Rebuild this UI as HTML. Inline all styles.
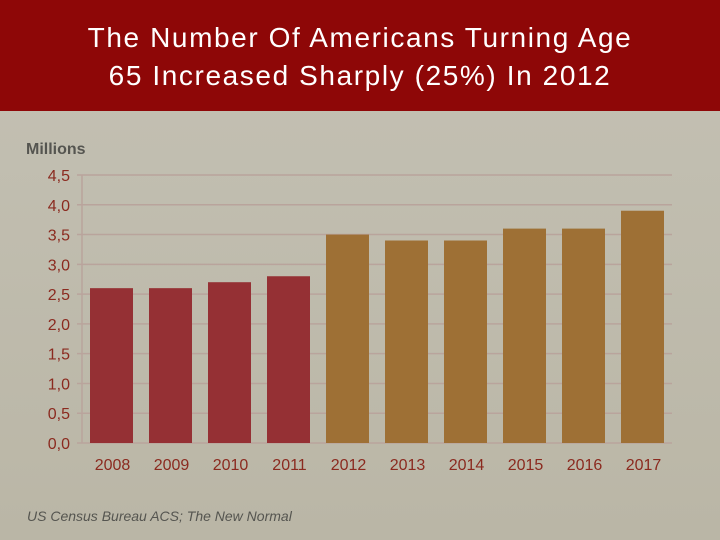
<!DOCTYPE html>
<html><head><meta charset="utf-8"><style>
body{margin:0;width:720px;height:540px;overflow:hidden;background:linear-gradient(#c4c1b4,#bab6a6);font-family:"Liberation Sans",sans-serif}
#hdr{position:absolute;left:0;top:0;width:720px;height:111px;background:#8e0707;color:#fff;text-align:center;font-size:28px;line-height:38px;padding-top:19px;box-sizing:border-box;letter-spacing:1.6px}
</style></head><body>
<div id="hdr">The Number Of Americans Turning Age<br>65 Increased Sharply (25%) In 2012</div>
<svg id="c" width="720" height="540" style="position:absolute;left:0;top:0"></svg>
<script>
const categories=["2008","2009","2010","2011","2012","2013","2014","2015","2016","2017"];
const values=[2.6,2.6,2.7,2.8,3.5,3.4,3.4,3.6,3.6,3.9];
const ticks=[0,0.5,1,1.5,2,2.5,3,3.5,4,4.5];
const tickLabels=["0,0","0,5","1,0","1,5","2,0","2,5","3,0","3,5","4,0","4,5"];
const ns="http://www.w3.org/2000/svg",svg=document.getElementById('c');
const x0=82,x1=672,y0=443,y1=175;
const y=v=>y0-(v/4.5)*(y0-y1);
const bw=(x1-x0)/categories.length;
function mk(t,a,txt){const e=document.createElementNS(ns,t);for(const k in a)e.setAttribute(k,a[k]);if(txt!=null)e.textContent=txt;svg.appendChild(e);return e;}
ticks.forEach((v,i)=>{
 const g=mk('line',{x1:77,x2:x1,y1:y(v),y2:y(v),stroke:'#b9a49c','stroke-width':1.5});
 
 
 const t=mk('text',{x:70,y:y(v)+6,'text-anchor':'end','font-size':16,fill:'#8b2a1f'},tickLabels[i]);
 
 
});
const ax=mk('line',{x1:x0,x2:x0,y1:y1,y2:y0,stroke:'#b9a49c','stroke-width':1.5});


categories.forEach((c,i)=>{
 const cx=x0+bw*(i+0.5);
 const r=mk('rect',{x:cx-21.5,y:y(values[i]),width:43,height:y0-y(values[i]),fill:i<4?'#953034':'#9e7035'});
 
 
 const t=mk('text',{x:cx+1,y:470,'text-anchor':'middle','font-size':16,fill:'#8b2a1f'},c);
 
 
});
const yt=mk('text',{x:26,y:154,'font-size':16,'font-weight':'bold',fill:'#555550'},'Millions');


const src=mk('text',{x:27,y:521,'font-size':14,'font-style':'italic',fill:'#555550'},'US Census Bureau ACS; The New Normal');


</script>
</body></html>
